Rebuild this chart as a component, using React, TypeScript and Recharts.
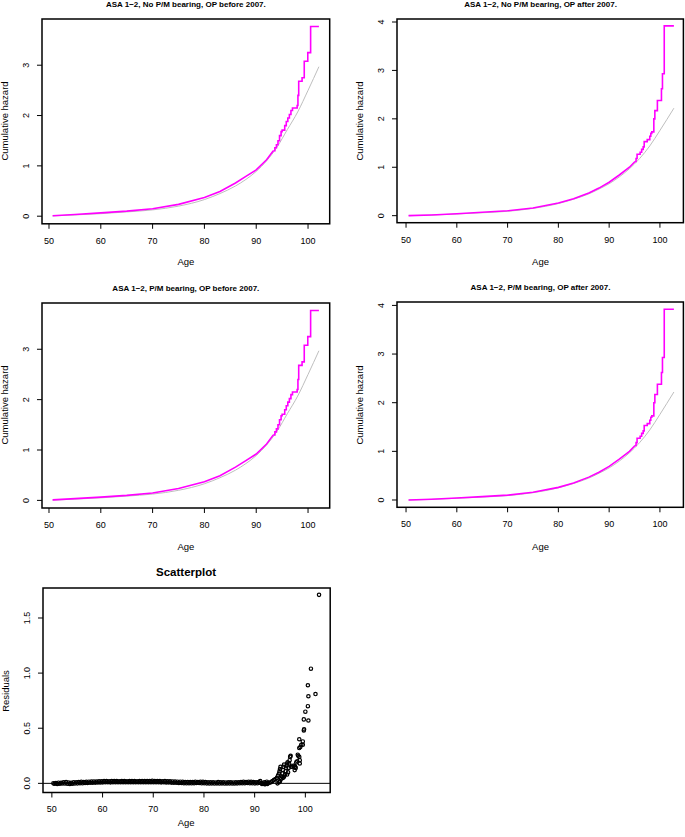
import React from 'react';
import {
  ComposedChart,
  ScatterChart,
  Line,
  Scatter,
  XAxis,
  YAxis,
  ReferenceLine,
} from 'recharts';

const FONT = '"Liberation Sans", Arial, Helvetica, sans-serif';

const ageTicks = [50, 60, 70, 80, 90, 100];
const hazardTicksBefore = [0, 1, 2, 3];
const hazardTicksAfter = [0, 1, 2, 3, 4];
const residualTicks = [0, 0.5, 1, 1.5];

// Nelson-Aalen cumulative hazard, OP before 2007: dense early part, then the visible steps
const naBeforeSmooth: [number, number][] = [
  [50.7, 0.01], [55, 0.035], [60, 0.065], [65, 0.1], [70, 0.148], [75, 0.235],
  [80, 0.37], [83, 0.49], [86, 0.66], [88, 0.79], [90, 0.92], [92, 1.12], [93.3, 1.3],
];
const naBeforeSteps: [number, number][] = [
  [93.3, 1.3], [93.6, 1.36], [93.9, 1.42], [94.2, 1.5], [94.5, 1.6], [94.8, 1.68],
  [95.0, 1.71], [95.5, 1.8], [95.8, 1.88], [96.1, 1.95], [96.4, 2.02], [96.7, 2.1],
  [97.0, 2.15], [97.9, 2.2], [98.05, 2.4], [98.2, 2.68], [98.85, 2.75], [99.27, 3.08],
  [99.95, 3.25], [100.5, 3.77], [102.1, 3.77],
];
// fitted parametric cumulative hazard, OP before 2007
const fitBefore: [number, number][] = [
  [50.7, 0.005], [55, 0.025], [60, 0.05], [65, 0.085], [70, 0.125], [75, 0.2],
  [80, 0.33], [83, 0.45], [86, 0.6], [88, 0.73], [90, 0.89], [92, 1.1], [94, 1.37],
  [96, 1.72], [98, 2.07], [100, 2.5], [102.1, 2.97],
];

// OP after 2007
const naAfterSmooth: [number, number][] = [
  [50.5, 0.0], [55, 0.015], [60, 0.04], [65, 0.07], [70, 0.1], [75, 0.16],
  [80, 0.26], [83, 0.35], [86, 0.47], [88, 0.57], [90, 0.69], [92, 0.84], [94, 1.0], [95.1, 1.12],
];
const naAfterSteps: [number, number][] = [
  [95.1, 1.12], [95.3, 1.18], [95.5, 1.27], [96.1, 1.31], [96.4, 1.37], [96.7, 1.42],
  [96.9, 1.53], [97.5, 1.57], [98.0, 1.64], [98.2, 1.7], [98.4, 1.73], [98.8, 2.0],
  [99.0, 2.17], [99.5, 2.38], [100.3, 2.62], [100.5, 2.93], [100.85, 3.92], [102.75, 3.92],
];
const fitAfter: [number, number][] = [
  [50.5, 0.0], [55, 0.012], [60, 0.035], [65, 0.06], [70, 0.09], [75, 0.15],
  [80, 0.25], [83, 0.34], [86, 0.45], [88, 0.55], [90, 0.66], [92, 0.8], [94, 0.97],
  [96, 1.18], [98, 1.44], [100, 1.76], [102.75, 2.22],
];

// residuals vs age: the dense band below 93 (two interleaved rows), then the tail
const residualBand: [number, number][] = [
  [50.3, 0.0], [50.8, 0.003], [51.3, 0.006], [51.8, 0.004], [52.3, 0.009], [52.8, 0.011],
  [53.3, 0.007], [53.8, 0.004], [54.3, 0.009], [54.8, 0.01], [55.3, 0.011], [55.8, 0.013],
  [56.3, 0.012], [56.8, 0.014], [57.3, 0.015], [57.8, 0.016], [58.3, 0.017], [58.8, 0.016],
  [59.3, 0.018], [59.8, 0.019], [60.3, 0.021], [60.8, 0.02], [61.3, 0.019], [61.8, 0.021],
  [62.3, 0.02], [62.8, 0.021], [63.3, 0.019], [63.8, 0.02], [64.3, 0.021], [64.8, 0.019],
  [65.3, 0.02], [65.8, 0.021], [66.3, 0.02], [66.8, 0.019], [67.3, 0.021], [67.8, 0.02],
  [68.3, 0.021], [68.8, 0.02], [69.3, 0.021], [69.8, 0.022], [70.3, 0.021], [70.8, 0.02],
  [71.3, 0.021], [71.8, 0.019], [72.3, 0.02], [72.8, 0.018], [73.3, 0.019], [73.8, 0.017],
  [74.3, 0.016], [74.8, 0.015], [75.3, 0.015], [75.8, 0.013], [76.3, 0.012], [76.8, 0.012],
  [77.3, 0.011], [77.8, 0.012], [78.3, 0.013], [78.8, 0.012], [79.3, 0.014], [79.8, 0.013],
  [80.3, 0.011], [80.8, 0.01], [81.3, 0.009], [81.8, 0.01], [82.3, 0.008], [82.8, 0.011],
  [83.3, 0.009], [83.8, 0.01], [84.3, 0.008], [84.8, 0.009], [85.3, 0.01], [85.8, 0.008],
  [86.3, 0.009], [86.8, 0.01], [87.3, 0.011], [87.8, 0.013], [88.3, 0.012], [88.8, 0.014],
  [89.3, 0.013], [89.8, 0.012], [90.3, 0.01], [90.8, 0.012], [91.1, 0.02], [91.3, 0.003],
  [91.6, -0.004], [91.9, 0.01], [92.1, -0.006], [92.4, 0.015], [92.6, 0.005],
];
const residualBandLower: [number, number][] = [
  [50.55, -0.004], [51.05, -0.005], [51.55, -0.003], [52.05, -0.002], [52.55, -0.001], [53.05, -0.003],
  [53.55, -0.005], [54.05, -0.003], [54.55, -0.001], [55.05, 0.0], [55.55, 0.001], [56.05, 0.002],
  [56.55, 0.003], [57.05, 0.004], [57.55, 0.005], [58.05, 0.006], [58.55, 0.007], [59.05, 0.008],
  [59.55, 0.008], [60.05, 0.009], [60.55, 0.01], [61.05, 0.01], [61.55, 0.009], [62.05, 0.01],
  [62.55, 0.011], [63.05, 0.01], [63.55, 0.011], [64.05, 0.01], [64.55, 0.011], [65.05, 0.01],
  [65.55, 0.011], [66.05, 0.01], [66.55, 0.011], [67.05, 0.01], [67.55, 0.011], [68.05, 0.01],
  [68.55, 0.011], [69.05, 0.01], [69.55, 0.011], [70.05, 0.011], [70.55, 0.01], [71.05, 0.011],
  [71.55, 0.009], [72.05, 0.01], [72.55, 0.008], [73.05, 0.009], [73.55, 0.007], [74.05, 0.006],
  [74.55, 0.005], [75.05, 0.004], [75.55, 0.003], [76.05, 0.002], [76.55, 0.001], [77.05, 0.001],
  [77.55, 0.002], [78.05, 0.002], [78.55, 0.003], [79.05, 0.003], [79.55, 0.002], [80.05, 0.001],
  [80.55, 0.0], [81.05, -0.001], [81.55, 0.0], [82.05, -0.002], [82.55, 0.0], [83.05, -0.001],
  [83.55, 0.0], [84.05, -0.002], [84.55, -0.001], [85.05, 0.0], [85.55, -0.002], [86.05, -0.001],
  [86.55, 0.0], [87.05, 0.001], [87.55, 0.002], [88.05, 0.002], [88.55, 0.003], [89.05, 0.002],
  [89.55, 0.002], [90.05, 0.0], [90.55, 0.001], [91.0, 0.006], [91.45, -0.006], [91.75, -0.002],
  [92.0, -0.008], [92.25, 0.002], [92.5, -0.005],
];
const residualTail: [number, number][] = [
  [92.9, 0.005], [93.2, 0.01], [93.5, 0.02], [93.8, 0.03], [94.1, 0.04], [94.4, 0.05],
  [94.6, 0.07], [94.8, 0.09], [94.9, 0.11], [95.0, 0.13], [95.1, 0.15],
  [94.5, 0.0], [94.8, 0.01], [95.0, 0.02], [95.2, 0.04], [95.4, 0.06], [95.5, 0.09],
  [95.6, 0.12], [95.7, 0.15], [95.8, 0.17],
  [95.6, 0.05], [95.8, 0.06], [96.0, 0.08], [96.1, 0.11], [96.2, 0.14], [96.3, 0.16],
  [96.4, 0.18], [96.5, 0.19],
  [96.4, 0.08], [96.6, 0.1], [96.7, 0.14], [96.8, 0.18], [96.9, 0.21], [97.0, 0.24], [97.1, 0.25],
  [97.2, 0.15], [97.4, 0.15], [97.6, 0.16], [97.8, 0.16], [98.0, 0.15], [97.9, 0.12], [98.1, 0.14],
  [98.2, 0.19], [98.4, 0.2], [98.5, 0.26], [98.6, 0.25], [98.8, 0.24], [98.9, 0.21], [98.9, 0.18],
  [98.8, 0.32], [99.0, 0.33], [99.2, 0.35], [99.5, 0.35], [98.8, 0.4], [99.5, 0.38],
  [99.7, 0.48], [99.75, 0.49], [99.7, 0.58], [100.0, 0.65], [100.6, 0.57], [100.5, 0.7],
  [100.6, 0.79], [100.5, 0.89], [101.1, 1.04], [102.0, 0.81], [102.7, 1.71],
];

const toPoints = (rows: [number, number][]) => rows.map(([age, h]) => ({ age, h }));
const toResiduals = (rows: [number, number][]) => rows.map(([age, r]) => ({ age, r }));

interface Box {
  x: number;
  y: number;
  w: number;
  h: number;
}

const ML = 46;
const MT = 4;
const FRAME = '#000';

const RotatedTick = ({ x, y, payload, digits }: any) => {
  const tx = x - 8;
  const label = digits ? Number(payload.value).toFixed(digits) : String(payload.value);
  return (
    <text
      x={tx}
      y={y}
      transform={`rotate(-90 ${tx} ${y})`}
      textAnchor="middle"
      fontSize={9}
      fontFamily={FONT}
      fill="#000"
    >
      {label}
    </text>
  );
};

// R-style box round the plotting region, laid over the chart's svg
const PlotFrame = ({ w, h }: { w: number; h: number }) => (
  <svg
    width={w + ML + 4}
    height={h + MT + 30}
    style={{ position: 'absolute', left: 0, top: 0, pointerEvents: 'none', overflow: 'visible' }}
  >
    <rect x={ML} y={MT} width={w} height={h} fill="none" stroke={FRAME} strokeWidth={1.5} />
  </svg>
);

const textBase: React.CSSProperties = {
  position: 'absolute',
  fontFamily: FONT,
  color: '#000',
  whiteSpace: 'nowrap',
  lineHeight: 1,
};

const Title = ({ cx, cy, text, size }: { cx: number; cy: number; text: string; size: number }) => (
  <div style={{ ...textBase, left: cx, top: cy, fontSize: size, fontWeight: 'bold', transform: 'translate(-50%, -50%)' }}>
    {text}
  </div>
);

const AxisLabel = ({ cx, cy, text, rotate }: { cx: number; cy: number; text: string; rotate?: boolean }) => (
  <div
    style={{
      ...textBase,
      left: cx,
      top: cy,
      fontSize: 9.5,
      transform: `translate(-50%, -50%)${rotate ? ' rotate(-90deg)' : ''}`,
    }}
  >
    {text}
  </div>
);

interface HazardPanelProps {
  title: string;
  box: Box;
  xDomain: [number, number];
  yDomain: [number, number];
  yTicks: number[];
  smooth: [number, number][];
  steps: [number, number][];
  fitted: [number, number][];
}

const HazardPanel = ({ title, box, xDomain, yDomain, yTicks, smooth, steps, fitted }: HazardPanelProps) => (
  <>
    <div style={{ position: 'absolute', left: box.x - ML, top: box.y - MT }}>
      <ComposedChart
        width={box.w + ML + 4}
        height={box.h + MT + 30}
        margin={{ top: MT, right: 4, bottom: 0, left: 4 }}
      >
        <XAxis
          type="number"
          dataKey="age"
          domain={xDomain}
          ticks={ageTicks}
          interval={0}
          allowDataOverflow
          axisLine={false}
          tickSize={5}
          tickMargin={8.5}
          tickLine={{ stroke: FRAME }}
          tick={{ fontSize: 9, fill: '#000', fontFamily: FONT }}
          height={30}
        />
        <YAxis
          type="number"
          domain={yDomain}
          ticks={yTicks}
          interval={0}
          allowDataOverflow
          axisLine={false}
          tickSize={5}
          tickMargin={0}
          tickLine={{ stroke: FRAME }}
          tick={<RotatedTick />}
          width={42}
        />
        <Line data={toPoints(fitted)} dataKey="h" type="monotone" stroke="#bebebe" strokeWidth={1} dot={false} isAnimationActive={false} />
        <Line data={toPoints(smooth)} dataKey="h" type="linear" stroke="#ff00ff" strokeWidth={1.6} dot={false} isAnimationActive={false} />
        <Line data={toPoints(steps)} dataKey="h" type="stepAfter" stroke="#ff00ff" strokeWidth={1.6} dot={false} isAnimationActive={false} />
      </ComposedChart>
      <PlotFrame w={box.w} h={box.h} />
    </div>
    <Title cx={box.x + box.w / 2} cy={box.y - 14} text={title} size={8} />
    <AxisLabel cx={box.x + box.w / 2} cy={box.y + box.h + 39} text="Age" />
    <AxisLabel cx={box.x - 37.5} cy={box.y + box.h / 2} text="Cumulative hazard" rotate />
  </>
);

const ResidualDot = (props: any) => (
  <circle cx={props.cx} cy={props.cy} r={1.7} fill="none" stroke="#000" strokeWidth={1.2} />
);

const ResidualPanel = ({ box }: { box: Box }) => {
  const xDomain: [number, number] = [48.25, 104.9];
  const yDomain: [number, number] = [-0.083, 1.772];
  return (
    <>
      <div style={{ position: 'absolute', left: box.x - ML, top: box.y - MT }}>
        <ScatterChart
          width={box.w + ML + 4}
          height={box.h + MT + 30}
          margin={{ top: MT, right: 4, bottom: 0, left: 4 }}
        >
          <XAxis
            type="number"
            dataKey="age"
            domain={xDomain}
            ticks={ageTicks}
            interval={0}
            allowDataOverflow
            axisLine={false}
            tickSize={5}
            tickMargin={8.5}
            tickLine={{ stroke: FRAME }}
            tick={{ fontSize: 9, fill: '#000', fontFamily: FONT }}
            height={30}
          />
          <YAxis
            type="number"
            dataKey="r"
            domain={yDomain}
            ticks={residualTicks}
            interval={0}
            allowDataOverflow
            axisLine={false}
            tickSize={5}
            tickMargin={0}
            tickLine={{ stroke: FRAME }}
            tick={<RotatedTick digits={1} />}
            width={42}
          />
          <ReferenceLine y={0} stroke="#000" strokeWidth={1} />
          <Scatter data={toResiduals(residualBand)} shape={<ResidualDot />} isAnimationActive={false} />
          <Scatter data={toResiduals(residualBandLower)} shape={<ResidualDot />} isAnimationActive={false} />
          <Scatter data={toResiduals(residualTail)} shape={<ResidualDot />} isAnimationActive={false} />
        </ScatterChart>
        <PlotFrame w={box.w} h={box.h} />
      </div>
      <Title cx={box.x + box.w / 2} cy={box.y - 15.5} text="Scatterplot" size={11.5} />
      <AxisLabel cx={box.x + box.w / 2} cy={box.y + box.h + 30} text="Age" />
      <AxisLabel cx={box.x - 37} cy={box.y + box.h / 2} text="Residuals" rotate />
    </>
  );
};

const App = () => (
  <div style={{ position: 'absolute', left: 0, top: 0, width: 685, height: 837, background: '#fff', overflow: 'hidden' }}>
    <HazardPanel
      title="ASA 1−2, No P/M bearing, OP before 2007."
      box={{ x: 42, y: 18.5, w: 287.7, h: 204.8 }}
      xDomain={[48.65, 104.18]}
      yDomain={[-0.151, 3.918]}
      yTicks={hazardTicksBefore}
      smooth={naBeforeSmooth}
      steps={naBeforeSteps}
      fitted={fitBefore}
    />
    <HazardPanel
      title="ASA 1−2, No P/M bearing, OP after 2007."
      box={{ x: 397.3, y: 19, w: 286.4, h: 203.7 }}
      xDomain={[48.22, 104.62]}
      yDomain={[-0.145, 4.062]}
      yTicks={hazardTicksAfter}
      smooth={naAfterSmooth}
      steps={naAfterSteps}
      fitted={fitAfter}
    />
    <HazardPanel
      title="ASA 1−2, P/M bearing, OP before 2007."
      box={{ x: 42, y: 302.5, w: 287.7, h: 205 }}
      xDomain={[48.65, 104.18]}
      yDomain={[-0.151, 3.918]}
      yTicks={hazardTicksBefore}
      smooth={naBeforeSmooth}
      steps={naBeforeSteps}
      fitted={fitBefore}
    />
    <HazardPanel
      title="ASA 1−2, P/M bearing, OP after 2007."
      box={{ x: 397.3, y: 302.3, w: 286.4, h: 205.3 }}
      xDomain={[48.22, 104.62]}
      yDomain={[-0.15, 4.07]}
      yTicks={hazardTicksAfter}
      smooth={naAfterSmooth}
      steps={naAfterSteps}
      fitted={fitAfter}
    />
    <ResidualPanel box={{ x: 42.5, y: 588.3, w: 287.2, h: 204.5 }} />
  </div>
);

export default App;
